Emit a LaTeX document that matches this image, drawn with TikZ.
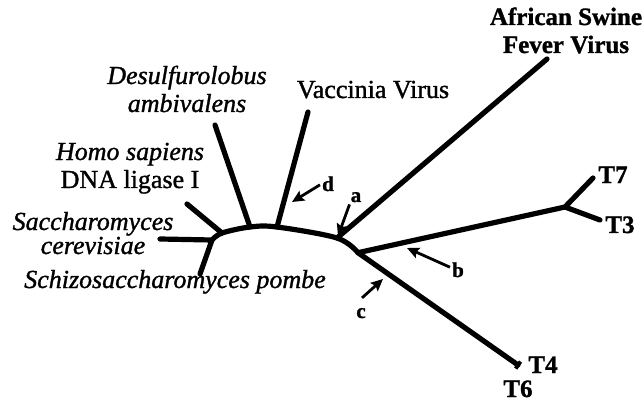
\documentclass[tikz,border=0pt]{standalone}
\usepackage{fontspec}
\setmainfont{Liberation Serif}[FakeBold=1.2]
\usetikzlibrary{arrows.meta}
\begin{document}
\begin{tikzpicture}[x=1pt,y=-1pt,
  branch/.style={line width=5.2pt, line cap=round, line join=round},
  pointer/.style={line width=2.8pt, -{Stealth[length=12pt,width=11pt,inset=2pt]}},
  lbl/.style={inner sep=0pt, anchor=base, align=center, font=\fontsize{26}{28}\selectfont},
  ilbl/.style={lbl, font=\fontsize{26}{28}\selectfont\itshape},
  blbl/.style={lbl, font=\fontsize{25}{28}\selectfont\bfseries},
  tlbl/.style={inner sep=0pt, anchor=base, font=\fontsize{25}{26}\selectfont\bfseries},
  letter/.style={inner sep=0pt, anchor=base, font=\fontsize{21}{22}\selectfont\bfseries}
]
\useasboundingbox (0,0) rectangle (643,401);

% tree points
\coordinate (Yj) at (212,240);
\coordinate (Sc) at (160,239);
\coordinate (Sp) at (200,274);
\coordinate (H) at (222,233);
\coordinate (Hend) at (187,204);
\coordinate (D) at (250,227);
\coordinate (Dend) at (215,125);
\coordinate (V) at (277,227);
\coordinate (Vend) at (308,112);
\coordinate (A) at (337,238);
\coordinate (Aend) at (547,59);
\coordinate (Bj) at (358,252.7);
\coordinate (F) at (565,207);
\coordinate (T7e) at (593,178);
\coordinate (T3e) at (600,220);
\coordinate (T4e) at (518,365);

% backbone
\draw[branch] plot[smooth, tension=0.55] coordinates {(Yj) (H) (D) (V) (A) (Bj)} -- (T4e);
\draw[branch] (Sc) -- (Yj) -- (Sp);
\draw[branch] (H) -- (Hend);
\draw[branch] (D) -- (Dend);
\draw[branch] (V) -- (Vend);
\draw[branch] (A) -- (Aend);
\draw[branch] (Bj) -- (F) -- (T7e);
\draw[branch] (F) -- (T3e);
\draw[line width=3.8pt] (T4e) -- ++(2.6,-3.4);
\draw[line width=3.8pt] (T4e) -- ++(-2.3,3.6);

% labels (base anchor = baseline of the last line)
\node[blbl] (asf) at (566,53) {African Swine\\Fever Virus};
\node[lbl] (vac) at (373,98) {Vaccinia Virus};
\node[ilbl] (des) at (187,112) {Desulfurolobus\\ambivalens};
\node[lbl] (hom) at (130,188) {\itshape Homo sapiens\\DNA ligase I};
\node[ilbl] (sac) at (93,254) {Saccharomyces\\[-4pt]cerevisiae};
\node[ilbl] (spo) at (175,288) {Schizosaccharomyces pombe};
\node[tlbl] (t7) at (613,183) {T7};
\node[tlbl] (t3) at (620,233) {T3};
\node[tlbl] (t4) at (543,373) {T4};
\node[tlbl] (t6) at (518,397) {T6};

% pointer letters
\node[letter] (la) at (356,202) {a};
\node[letter] (lb) at (458,277) {b};
\node[letter] (lc) at (361,318) {c};
\node[letter] (ld) at (328,191) {d};
\coordinate (pa) at (338,236);
\coordinate (pb) at (407,248);
\coordinate (pc) at (383,279);
\coordinate (pd) at (292,202);
\draw[pointer] (ld.west) ++(-2,1) -- (pd);
\draw[pointer] (la.south west) ++(-1,2) -- (pa);
\draw[pointer] (lb.north west) ++(-2,5) -- (pb);
\draw[pointer] (lc.north) ++(1,-10) -- (pc);
\end{tikzpicture}
\end{document}
